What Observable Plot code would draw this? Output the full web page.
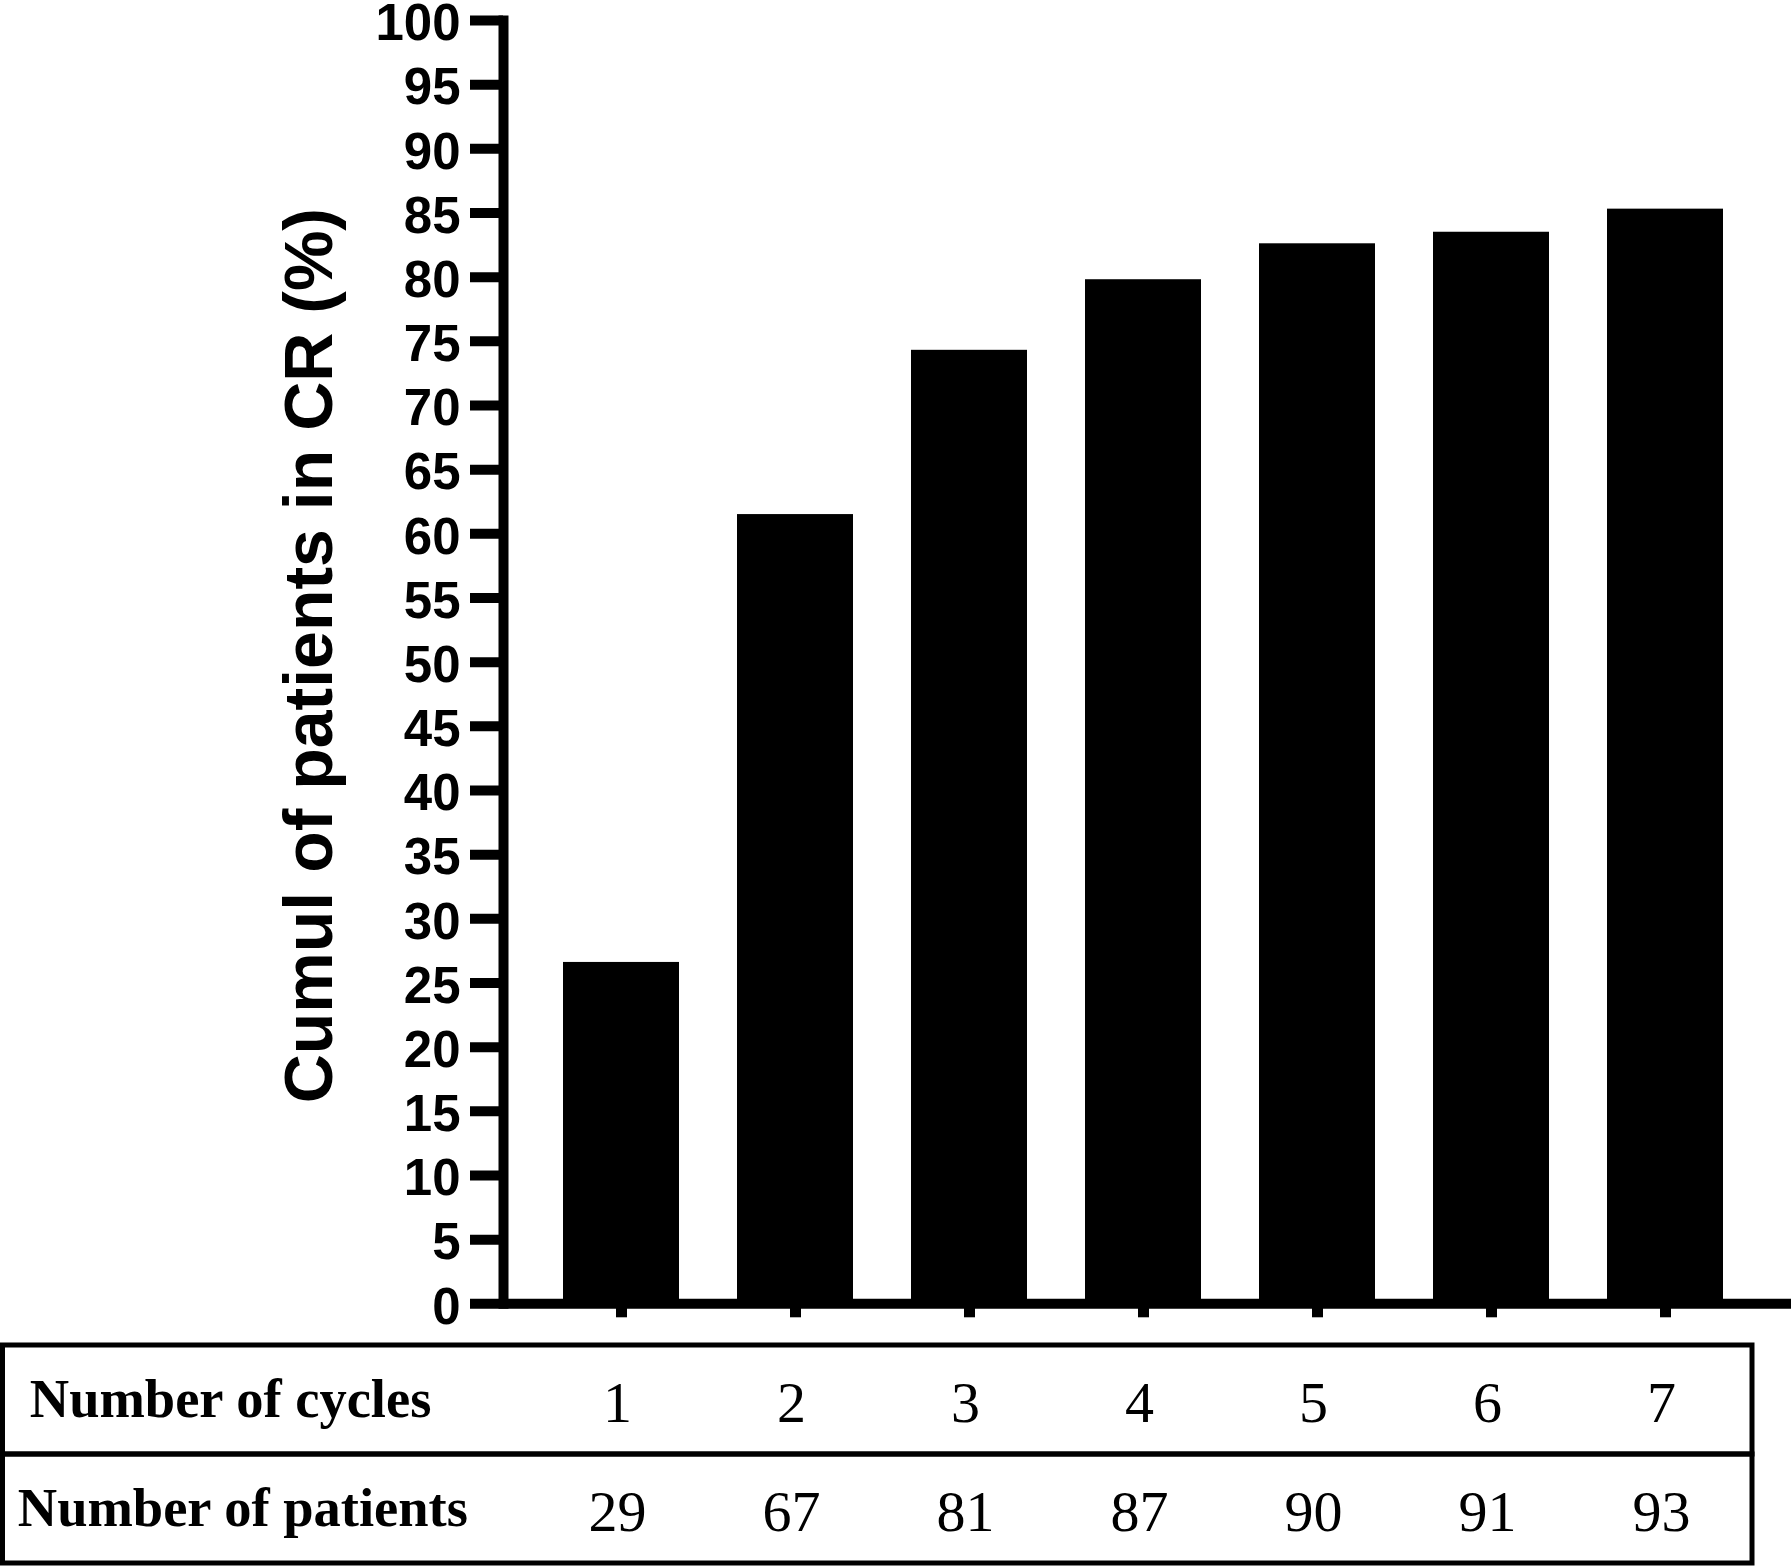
<!DOCTYPE html>
<html>
<head>
<meta charset="utf-8">
<script src="https://cdn.jsdelivr.net/npm/d3@7"></script>
<script src="https://cdn.jsdelivr.net/npm/@observablehq/plot@0.6"></script>
<style>
  html, body { margin: 0; padding: 0; background: #fff; overflow: hidden; }
  #chart svg { display: block; overflow: visible; }
</style>
</head>
<body>
<div id="chart"></div>
<script>
// ---- data ----
const cycles = ["1", "2", "3", "4", "5", "6", "7"];
const patients = [29, 67, 81, 87, 90, 91, 93];
const crPercent = [26.6, 61.5, 74.3, 79.8, 82.6, 83.5, 85.3];
const yTicks = [0, 5, 10, 15, 20, 25, 30, 35, 40, 45, 50, 55, 60, 65, 70, 75, 80, 85, 90, 95, 100];
const yLabel = "Cumul of patients in CR (%)";
const tableRows = ["Number of cycles", "Number of patients"];

const rows = cycles.map((c, i) => ({cycle: c, pct: crPercent[i], n: patients[i]}));

const sans = "'Liberation Sans', Arial, Helvetica, sans-serif";
const serif = "'Liberation Serif', 'Times New Roman', Times, serif";

// ---- bar chart ----
const chart = Plot.plot({
  width: 1791,
  height: 1340,
  marginLeft: 503,
  marginRight: 0,
  marginTop: 20,
  marginBottom: 36.7,
  style: {background: "white", color: "black", fontFamily: sans},
  x: {type: "band", domain: cycles, range: [503, 1784], paddingInner: 0.3314, paddingOuter: 0.326},
  y: {domain: [0, 100]},
  marks: [
    Plot.barY(rows, {x: "cycle", y: "pct", fill: "black"}),
    Plot.axisY({
      ticks: yTicks, tickSize: 33, strokeWidth: 10, text: null, label: null
    }),
    Plot.axisY({
      ticks: yTicks, tickSize: 33, tickPadding: 10, tick: null, dy: 3.5,
      fontSize: 51, fontWeight: "bold", fontFamily: sans, label: null, fill: "black"
    }),
    Plot.axisX({tickSize: 14, strokeWidth: 11, tickFormat: () => "", label: null}),
    Plot.ruleY([0], {strokeWidth: 10, stroke: "black"}),
    Plot.frame({anchor: "left", strokeWidth: 10, stroke: "black", strokeLinecap: "square"}),
    Plot.text([yLabel], {
      text: d => d, frameAnchor: "left", textAnchor: "middle", rotate: -90,
      dx: -172, dy: -6.5, lineAnchor: "bottom",
      fontSize: 68, fontWeight: "bold", fontFamily: sans, fill: "black"
    })
  ]
});

// ---- table below ----
const table = Plot.plot({
  width: 1791,
  height: 227,
  marginLeft: 2.5,
  marginRight: 39,
  marginTop: 4.5,
  marginBottom: 3.5,
  style: {background: "white", color: "black", fontFamily: serif},
  x: {type: "band", domain: cycles, range: [502, 1776], paddingInner: 0.3314, paddingOuter: 0.326, axis: null},
  y: {type: "band", domain: tableRows, range: [4.5, 223.5], padding: 0, axis: null},
  marks: [
    Plot.cell(tableRows, {y: d => d, fill: "none", stroke: "black", strokeWidth: 5}),
    Plot.text([tableRows[0]], {y: d => d, text: d => d, frameAnchor: "left", textAnchor: "start", dx: 26.8,
      fontSize: 54.5, fontWeight: "bold", fontFamily: serif, fill: "black"}),
    Plot.text([tableRows[1]], {y: d => d, text: d => d, frameAnchor: "left", textAnchor: "start", dx: 14.8,
      fontSize: 54.5, fontWeight: "bold", fontFamily: serif, fill: "black"}),
    Plot.text(rows, {x: "cycle", y: () => tableRows[0], text: "cycle", dy: 3.5,
      fontSize: 58, fontFamily: serif, fill: "black"}),
    Plot.text(rows, {x: "cycle", y: () => tableRows[1], text: d => String(d.n), dy: 3.5,
      fontSize: 58, fontFamily: serif, fill: "black"})
  ]
});

document.getElementById("chart").append(chart, table);
</script>
</body>
</html>
